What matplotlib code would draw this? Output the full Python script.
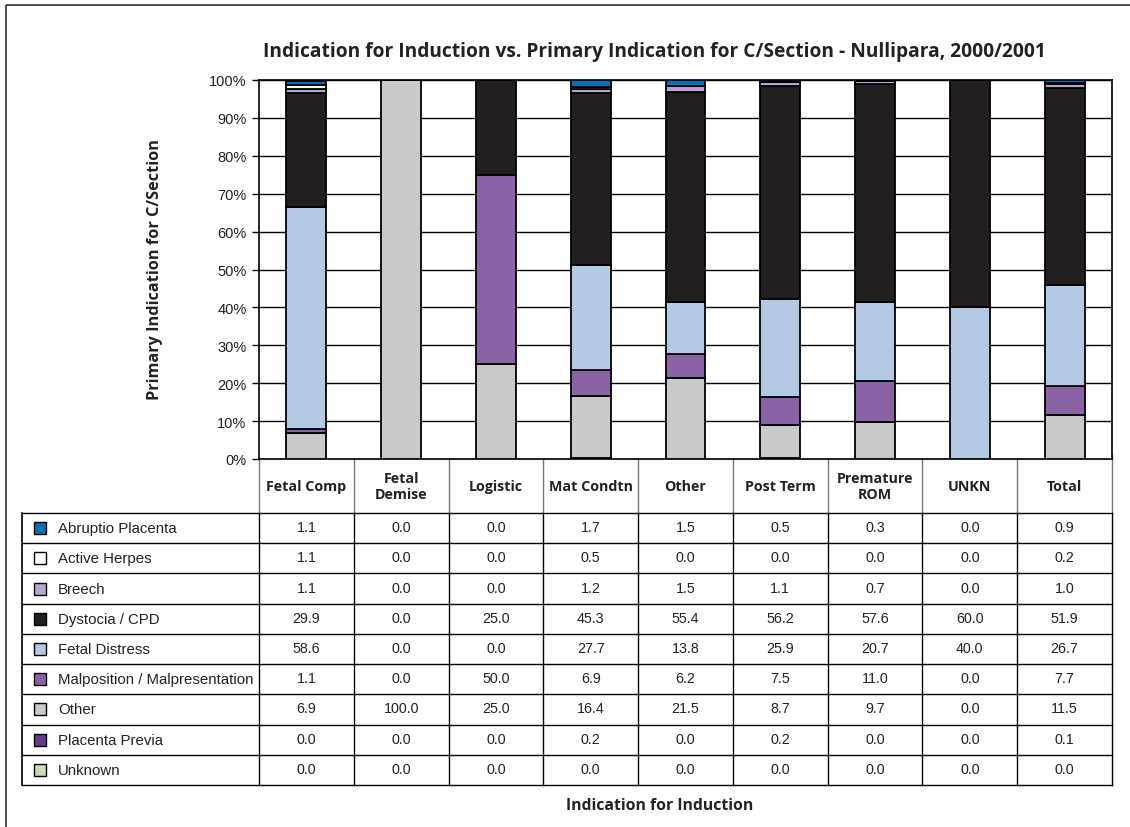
import numpy as np
import matplotlib.pyplot as plt
from matplotlib.patches import Rectangle

categories = ['Fetal Comp', 'Fetal\nDemise', 'Logistic', 'Mat Condtn', 'Other',
              'Post Term', 'Premature\nROM', 'UNKN', 'Total']
indications = ['Abruptio Placenta', 'Active Herpes', 'Breech', 'Dystocia / CPD',
               'Fetal Distress', 'Malposition / Malpresentation', 'Other',
               'Placenta Previa', 'Unknown']

abruptio = [1.1, 0.0, 0.0, 1.7, 1.5, 0.5, 0.3, 0.0, 0.9]
herpes = [1.1, 0.0, 0.0, 0.5, 0.0, 0.0, 0.0, 0.0, 0.2]
breech = [1.1, 0.0, 0.0, 1.2, 1.5, 1.1, 0.7, 0.0, 1.0]
dystocia = [29.9, 0.0, 25.0, 45.3, 55.4, 56.2, 57.6, 60.0, 51.9]
distress = [58.6, 0.0, 0.0, 27.7, 13.8, 25.9, 20.7, 40.0, 26.7]
malposition = [1.1, 0.0, 50.0, 6.9, 6.2, 7.5, 11.0, 0.0, 7.7]
other = [6.9, 100.0, 25.0, 16.4, 21.5, 8.7, 9.7, 0.0, 11.5]
previa = [0.0, 0.0, 0.0, 0.2, 0.0, 0.2, 0.0, 0.0, 0.1]
unknown = [0.0, 0.0, 0.0, 0.0, 0.0, 0.0, 0.0, 0.0, 0.0]

series = [abruptio, herpes, breech, dystocia, distress, malposition, other, previa, unknown]
colors = ['#0a72b4', '#ffffff', '#b9a6d0', '#231f20', '#b3c9e4', '#8a63a5',
          '#c8c9cb', '#6a3990', '#c5dcb5']

W, H = 1130, 828
fig = plt.figure(figsize=(W / 100, H / 100), dpi=100)

# overlay in pixel coords for frame, table and titles
ov = fig.add_axes([0, 0, 1, 1])
ov.set_xlim(0, W)
ov.set_ylim(H, 0)
ov.axis('off')
ov.add_patch(Rectangle((6, 6), 1300, 1000, fill=False, lw=1.2, ec='#333333'))

left, right, top, bot = 259, 1112, 81, 460
ax = fig.add_axes([left / W, (H - bot) / H, (right - left) / W, (bot - top) / H])
n = len(categories)
x = np.arange(n)
bottom = np.zeros(n)
for vals, c in reversed(list(zip(series, colors))):
    ax.bar(x, vals, 0.42, bottom=bottom, color=c, edgecolor='black', lw=1.3, zorder=3)
    bottom += np.array(vals)

ax.set_xlim(-0.5, n - 0.5)
ax.set_ylim(0, 100)
ax.set_yticks(range(0, 101, 10))
ax.set_yticklabels([f'{v}%' for v in range(0, 101, 10)], family='Liberation Sans',
                   fontsize=10.5, color='#222222')
ax.set_xticks([])
ax.yaxis.grid(True, color='black', lw=1)
ax.set_axisbelow(True)
ax.tick_params(axis='y', length=5, width=1, pad=4)
for s in ax.spines.values():
    s.set_linewidth(1.2)

bold = dict(family='Open Sans', weight='bold', color='#222222')

ov.text(654, 52, 'Indication for Induction vs. Primary Indication for C/Section - Nullipara, 2000/2001',
        ha='center', va='center', fontsize=13.8, **bold)
ov.text(155, 270, 'Primary Indication for C/Section', rotation=90, ha='center', va='center',
        fontsize=11.7, **bold)
ov.text(660, 806, 'Indication for Induction', ha='center', va='center', fontsize=11.3, **bold)

# data table
colw = (right - left) / n
rows_y = np.linspace(514, 786, len(indications) + 1)
tleft = 22
for k in range(n + 1):
    xx = left + k * colw
    ov.plot([xx, xx], [456, 514], color='#777777', lw=1)
    ov.plot([xx, xx], [514, 786], color='black', lw=1)
ov.plot([tleft, tleft], [514, 786], color='black', lw=1.2)
for yy in rows_y:
    ov.plot([tleft, right], [yy, yy], color='black', lw=1)

for k, cat in enumerate(categories):
    ov.text(left + (k + 0.5) * colw, 487, cat, ha='center', va='center', fontsize=10.3,
            linespacing=1.15, **bold)

for r, (name, vals, c) in enumerate(zip(indications, series, colors)):
    yc = (rows_y[r] + rows_y[r + 1]) / 2
    ov.add_patch(Rectangle((34, yc - 6), 12, 12, fc=c, ec='black', lw=1))
    ov.text(58, yc, name, ha='left', va='center', fontsize=10.8, family='Liberation Sans',
            color='#222222')
    for k, v in enumerate(vals):
        ov.text(left + (k + 0.5) * colw, yc - 1, f'{v:.1f}', ha='center', va='center',
                fontsize=10.3, family='Liberation Sans', color='#222222')

fig.savefig('out.png', dpi=100)
